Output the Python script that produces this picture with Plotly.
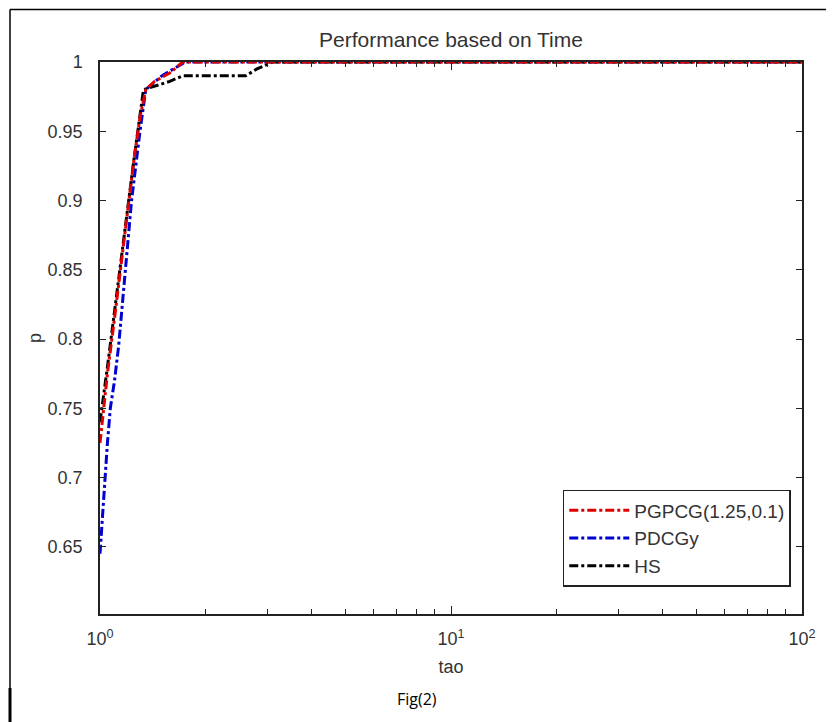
import plotly.graph_objects as go

# Performance profile data
tau_pgpcg = [1.0, 1.02, 1.05, 1.1, 1.15, 1.2, 1.25, 1.3, 1.35, 1.43, 1.58, 1.72, 100.0]
p_pgpcg = [0.725, 0.745, 0.775, 0.815, 0.855, 0.893, 0.93, 0.96, 0.98, 0.986, 0.992, 1.0, 1.0]

tau_pdcgy = [1.0, 1.02, 1.05, 1.07, 1.1, 1.13, 1.18, 1.23, 1.3, 1.35, 1.5, 1.75, 100.0]
p_pdcgy = [0.645, 0.68, 0.725, 0.75, 0.77, 0.795, 0.85, 0.9, 0.95, 0.98, 0.99, 1.0, 1.0]

tau_hs = [1.0, 1.02, 1.05, 1.1, 1.15, 1.2, 1.25, 1.3, 1.33, 1.45, 1.58, 1.72, 2.6, 2.8, 3.1, 100.0]
p_hs = [0.74, 0.755, 0.78, 0.82, 0.86, 0.895, 0.93, 0.96, 0.98, 0.983, 0.986, 0.99, 0.99, 0.995, 1.0, 1.0]

names = ["PGPCG(1.25,0.1)", "PDCGy", "HS"]
colors = ["#e00000", "#0000d0", "#000000"]

x_tickvals = [1, 10, 100]
x_ticktext = ["10<sup>0</sup>", "10<sup>1</sup>", "10<sup>2</sup>"]
y_tickvals = [0.65, 0.7, 0.75, 0.8, 0.85, 0.9, 0.95, 1.0]
y_ticktext = ["0.65", "0.7", "0.75", "0.8", "0.85", "0.9", "0.95", "1"]

fig = go.Figure()
series = list(zip([tau_pgpcg, tau_pdcgy, tau_hs], [p_pgpcg, p_pdcgy, p_hs], names, colors))
# draw order: blue, black, red on top; legend order PGPCG, PDCGy, HS
for idx in [1, 2, 0]:
    tau, p, name, col = series[idx]
    fig.add_trace(go.Scatter(x=tau, y=p, mode="lines", name=name, legendrank=idx + 1,
                             line=dict(color=col, width=3, dash="dashdot")))

font_fam = "Liberation Sans, Arial, sans-serif"
txt_col = "#333"
axis_common = dict(showgrid=False, zeroline=False, showline=True, linecolor="#222",
                   linewidth=1.5, mirror="ticks", ticks="inside", tickcolor="#222",
                   tickfont=dict(family=font_fam, size=18, color=txt_col))

# page body has an 8px margin -> figure is 826x714, coords shifted by 8px
fig.update_layout(
    width=826, height=714,
    margin=dict(l=92, r=32, t=54, b=108),
    paper_bgcolor="white", plot_bgcolor="white",
    showlegend=True,
    title=dict(text="Performance based on Time", x=0.5, xref="paper", xanchor="center",
               y=1 - 32 / 714, yanchor="middle",
               font=dict(family=font_fam, size=21, color=txt_col)),
    xaxis=dict(type="log", range=[0, 2], tickvals=x_tickvals, ticktext=x_ticktext,
               ticklen=8, ticklabelstandoff=8,
               minor=dict(ticks="inside", ticklen=5, tickcolor="#222", showgrid=False, dtick="D1"),
               title=dict(text="tao", font=dict(family=font_fam, size=18, color=txt_col), standoff=12),
               **axis_common),
    yaxis=dict(range=[0.6015, 1.0], tickvals=y_tickvals, ticktext=y_ticktext, ticklen=6,
               ticklabelstandoff=12,
               **axis_common),
    legend=dict(x=0.984, y=0.049, xanchor="right", yanchor="bottom",
                bgcolor="white", bordercolor="#222", borderwidth=1.5,
                font=dict(family=font_fam, size=19, color=txt_col),
                traceorder="normal", itemwidth=60, tracegroupgap=0),
)

# y-axis title as annotation (positioned like the reference)
fig.add_annotation(text="p", xref="paper", yref="paper", x=(27 - 92) / 702, y=0.5,
                   showarrow=False, textangle=-90, xanchor="center", yanchor="middle",
                   font=dict(family=font_fam, size=18, color=txt_col))

# Outer frame lines of the figure image
fig.add_shape(type="line", xref="paper", yref="paper", x0=-0.1282, x1=1.06, y0=1.0951, y1=1.0951,
              line=dict(color="black", width=1.5))
fig.add_shape(type="line", xref="paper", yref="paper", x0=-0.1282, x1=-0.1282, y0=1.0951, y1=-0.2,
              line=dict(color="black", width=1.5))
fig.add_shape(type="line", xref="paper", yref="paper", x0=-0.1282, x1=-0.1282, y0=-0.134, y1=-0.2,
              line=dict(color="black", width=3))

fig.add_annotation(text="Fig(2)", xref="paper", yref="paper", x=(417 - 100) / 702, y=(614 - 699) / 552,
                   showarrow=False, xanchor="center", yanchor="middle",
                   font=dict(family="Open Sans, sans-serif", size=16, color="black"))

fig.write_html("out.html")
